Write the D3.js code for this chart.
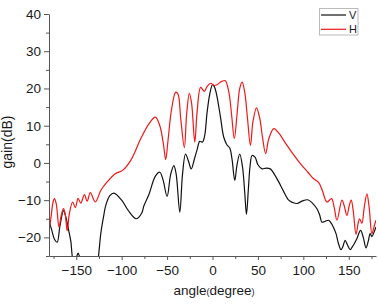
<!DOCTYPE html>
<html>
<head>
<meta charset="utf-8">
<script src="https://cdn.jsdelivr.net/npm/d3@7"></script>
<style>
  body { margin: 0; background: #fff; }
  svg { display: block; }
</style>
</head>
<body>
<div id="chart"></div>
<script>
// H polarisation (red)
const hAngle = [-180, -178, -175.5, -174, -172, -169, -166.5, -164, -162, -160, -157.5, -154, -151, -148, -145, -141, -138, -134.5, -129,
  -123, -116, -107, -99, -90, -79, -70, -63, -58, -54, -51.5, -49, -45, -40.5, -38, -35, -31, -28.5, -25.5, -23, -19.5, -17,
  -13, -9, -6, -2, 2, 5, 10, 14, 18, 21, 24, 27, 30, 32.6, 35.5, 38.5, 41.8, 44.5, 48.4, 52, 55, 58.5, 62, 67.5, 73, 82,
  96.7, 105, 111, 117, 121, 126, 131, 134, 137, 142.5, 145, 148, 150.5, 152.7, 155, 158, 160.5, 162, 164.5, 167, 170,
  172.5, 175.5, 178, 180];
const hGain = [-18.5, -15, -10.5, -9.6, -11, -17.2, -14, -12.3, -14, -18.2, -13.5, -10.5, -12, -9.5, -10.8, -8.5, -10.3, -8, -10.5,
  -7.4, -5.1, -2.9, -2, 0.7, 6.5, 10.5, 12.3, 10, 5, 0.9, 6, 14.5, 19, 18.5, 12, 4.1, 13, 18.7, 16, 5.6, 13.5,
  20.3, 19.2, 20.5, 21.4, 20.8, 21, 21.9, 22.1, 19, 13, 6.5, 13, 20, 21.7, 19, 12, 4.7, 11, 14.8, 12, 7, 2.5, 6.5, 9.2, 8, 4.7,
  -0.2, -2.5, -4.2, -5.3, -7.5, -10.5, -9.6, -12, -15.4, -10, -11.5, -14.1, -11.5, -10, -13, -19.2, -16, -15, -16.2, -12, -8.3,
  -12, -19, -17, -15.4];

// V polarisation (black)
const vAngle = [-180, -177, -174, -171, -168, -164, -161, -158, -156, -153, -150, -148, -146, -143, -135, -128, -125.5, -123, -120,
  -117.5, -113, -108.5, -100, -93, -84, -78, -75.5, -70, -63, -58, -54.5, -50, -46, -42.5, -40, -36, -33, -29.7, -26.5, -23.4,
  -20, -17, -14, -11, -8.5, -6, -3, 0, 2, 4.4, 8.8, 12.4, 16, 19, 21.5, 24.5, 27, 30, 33, 35.5, 37.4, 39.5, 41.5, 43.6, 47, 50,
  54.6, 59, 63.7, 68, 72.9, 78, 83.9, 88, 93, 99, 104.8, 110, 115, 118, 120.5, 124, 127.8, 131, 133, 136, 138.5, 141.4, 143.5,
  146, 148.5, 151.6, 154, 156.5, 159, 163, 166, 169, 171.5, 173.6, 175.5, 178, 180];
const vGain = [-15.6, -18, -20.5, -21.3, -17, -12.8, -15, -18.5, -21, -26.5, -25.5, -24.2, -25.5, -28, -32, -29, -25, -19, -14.5,
  -11.4, -8.8, -8.1, -10, -12.7, -15, -13.5, -11.5, -8.5, -3.6, -2.5, -4.5, -9, -3, -0.7, -3, -13.2, -3, 2.4, 0.5, -1.6,
  1, 3.5, 5.8, 5.6, 7.5, 13.5, 18.5, 21, 20.5, 18.5, 12.3, 6.9, 4.8, 4, 1, -4.7, -0.5, 2.4, -1, -8, -13.8, -7, -0.5, 2, 1.5, -0.5,
  -1.6, -1.4, -1.6, -3, -5.1, -7.5, -10, -10.6, -10.9, -10.2, -9.9, -10.8, -12.3, -14, -15.9, -15.7, -15.4, -16.3, -17.2, -19, -21.5, -23.3, -22.5,
  -20.8, -22, -23.3, -22.5, -21.5, -20.3, -18.1, -20, -22.8, -21, -19, -19.8, -18.5, -17.2];

const xMajor = [-150, -100, -50, 0, 50, 100, 150];
const xMinor = [-175, -125, -75, -25, 25, 75, 125, 175];
const yMajor = [-20, -10, 0, 10, 20, 30, 40];
const yMinor = [-25, -15, -5, 5, 15, 25, 35];

const series = [
  { name: "V", angle: vAngle, gain: vGain, color: "#111111" },
  { name: "H", angle: hAngle, gain: hGain, color: "#f01818" }
];

const width = 378, height = 304;
const x = d3.scaleLinear().domain([-180, 180]).range([49, 376]);
const y = d3.scaleLinear().domain([-25, 40]).range([256, 14]);
const axisColor = "#555";
const font = "'Liberation Sans', Arial, sans-serif";

const svg = d3.select("#chart")
  .append("svg")
  .attr("width", width)
  .attr("height", height)
  .attr("font-family", font);

svg.append("clipPath")
  .attr("id", "clip")
  .append("rect")
  .attr("x", x(-180))
  .attr("y", y(40))
  .attr("width", x(180) - x(-180))
  .attr("height", y(-25) - y(40));

// lines
const plot = svg.append("g").attr("clip-path", "url(#clip)");
series.forEach(s => {
  const line = d3.line()
    .curve(d3.curveCatmullRom.alpha(0.5))
    .x(i => x(s.angle[i]))
    .y(i => y(s.gain[i]));
  plot.append("path")
    .attr("fill", "none")
    .attr("stroke", s.color)
    .attr("stroke-width", 1.2)
    .attr("stroke-linejoin", "round")
    .attr("d", line(d3.range(s.angle.length)));
});

// y axis
const yAxis = svg.append("g").attr("transform", `translate(${x(-180)},0)`);
yAxis.call(d3.axisLeft(y).tickValues(yMinor).tickSize(3).tickFormat(""))
  .call(g => g.select(".domain").remove());
yAxis.append("g")
  .call(d3.axisLeft(y).tickValues(yMajor).tickSize(5).tickPadding(3).tickSizeOuter(0))
  .call(g => g.select(".domain").attr("stroke", axisColor))
  .call(g => g.selectAll("text").attr("fill", "#1a1a1a").attr("font-size", 13.5).attr("font-family", font));
yAxis.selectAll(".tick line").attr("stroke", axisColor);

// x axis
const xAxis = svg.append("g").attr("transform", `translate(0,${y(-25)})`);
xAxis.call(d3.axisBottom(x).tickValues(xMinor).tickSize(3).tickFormat(""))
  .call(g => g.select(".domain").remove());
xAxis.append("g")
  .call(d3.axisBottom(x).tickValues(xMajor).tickSize(4).tickPadding(5).tickSizeOuter(0))
  .call(g => g.select(".domain").attr("stroke", axisColor))
  .call(g => g.selectAll("text").attr("fill", "#1a1a1a").attr("font-size", 13.5).attr("font-family", font));
xAxis.selectAll(".tick line").attr("stroke", axisColor);

// axis titles
const xt = svg.append("text")
  .attr("x", 214)
  .attr("y", 295)
  .attr("text-anchor", "middle")
  .attr("font-size", 13.5)
  .attr("fill", "#1a1a1a");
xt.append("tspan").text("angle");
xt.append("tspan").attr("font-size", 9).text("(");
xt.append("tspan").text("degree");
xt.append("tspan").attr("font-size", 9).text(")");

svg.append("text")
  .attr("transform", "translate(12,142) rotate(-90)")
  .attr("text-anchor", "middle")
  .attr("font-size", 14)
  .attr("fill", "#1a1a1a")
  .text("gain(dB)");

// legend
const legend = svg.append("g");
legend.append("rect")
  .attr("x", 319.5)
  .attr("y", 8.5)
  .attr("width", 38.5)
  .attr("height", 26.5)
  .attr("fill", "#fff")
  .attr("stroke", "#bbb")
  .attr("stroke-width", 1);
series.forEach((s, i) => {
  const ly = 15 + i * 14.3;
  legend.append("line")
    .attr("x1", 321).attr("x2", 346)
    .attr("y1", ly).attr("y2", ly)
    .attr("stroke", s.color)
    .attr("stroke-width", 1.2);
  legend.append("text")
    .attr("x", 349)
    .attr("y", ly + 4)
    .attr("font-size", 11)
    .attr("fill", "#1a1a1a")
    .text(s.name);
});
</script>
</body>
</html>
